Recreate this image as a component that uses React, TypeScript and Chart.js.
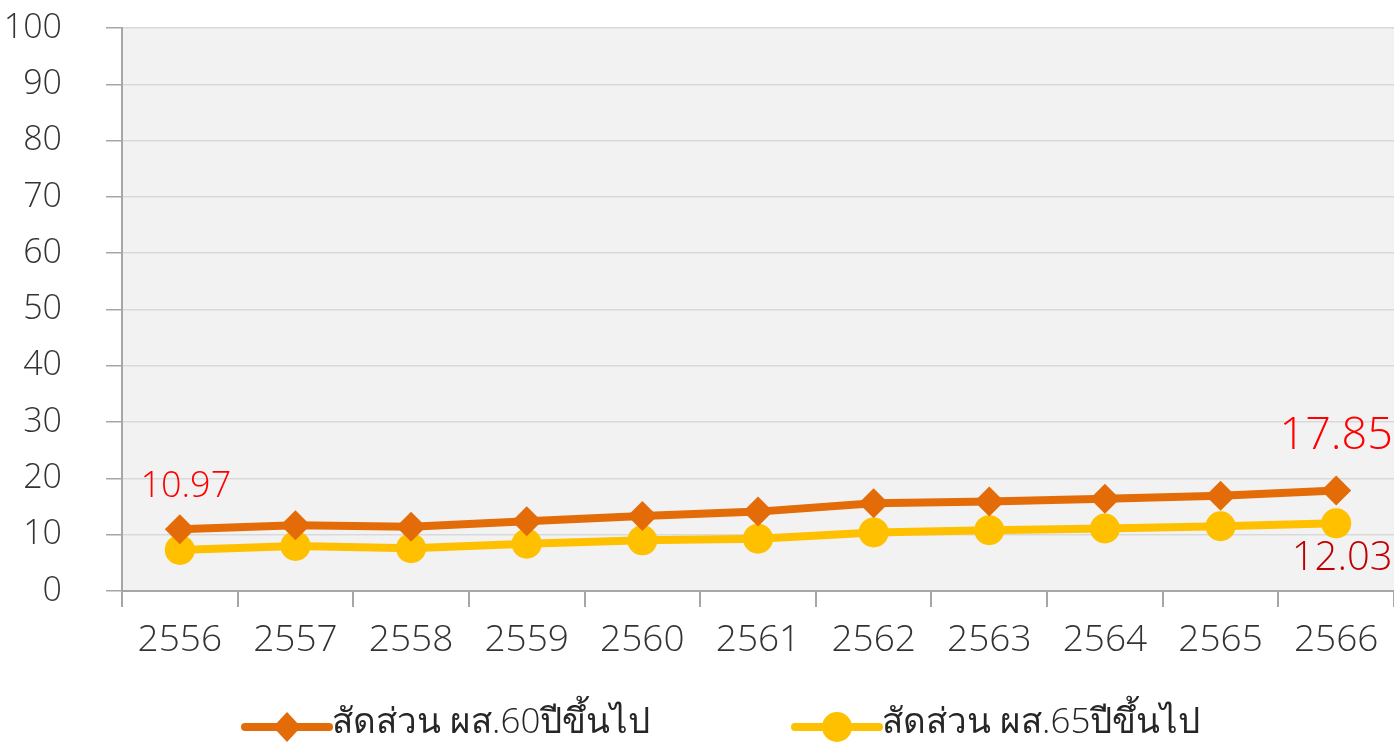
import React, { useEffect, useRef } from "react";
import { Chart, registerables } from "chart.js";

Chart.register(...registerables);

const categories = ["2556", "2557", "2558", "2559", "2560", "2561", "2562", "2563", "2564", "2565", "2566"];
const seriesNames = ["สัดส่วน ผส.60ปีขึ้นไป", "สัดส่วน ผส.65ปีขึ้นไป"];
const share60 = [10.97, 11.7, 11.4, 12.4, 13.3, 14.1, 15.6, 15.9, 16.4, 16.9, 17.85];
const share65 = [7.3, 8.0, 7.6, 8.4, 9.0, 9.3, 10.4, 10.8, 11.1, 11.5, 12.03];
const yTicks = [0, 10, 20, 30, 40, 50, 60, 70, 80, 90, 100];

const ORANGE = "#E36C09";
const YELLOW = "#FFC000";
const FONT = "'Open Sans', 'Noto Sans', sans-serif";

export default function App() {
  const ref = useRef<HTMLCanvasElement | null>(null);

  useEffect(() => {
    const canvas = ref.current!;
    const bgPlugin = {
      id: "bg",
      beforeDraw(chart: any) {
        const { ctx, chartArea } = chart;
        ctx.save();
        ctx.fillStyle = "#F2F2F2";
        ctx.fillRect(chartArea.left, chartArea.top, chartArea.right - chartArea.left, chartArea.bottom - chartArea.top);
        ctx.restore();
      },
    };
    const labelPlugin = {
      id: "labels",
      afterDatasetsDraw(chart: any) {
        const ctx = chart.ctx;
        const m0 = chart.getDatasetMeta(0).data;
        const m1 = chart.getDatasetMeta(1).data;
        ctx.save();
        ctx.textAlign = "center";
        ctx.textBaseline = "middle";
        const first = m0[0];
        ctx.fillStyle = "#FF0000";
        ctx.font = `300 36px ${FONT}`;
        ctx.fillText(String(share60[0]), first.x + 6, first.y - 42);
        const last = m0[m0.length - 1];
        ctx.font = `300 45px ${FONT}`;
        ctx.fillText(String(share60[share60.length - 1]), last.x, last.y - 54);
        const last1 = m1[m1.length - 1];
        ctx.fillStyle = "#C00000";
        ctx.font = `300 40px ${FONT}`;
        ctx.fillText(share65[share65.length - 1].toFixed(2), last1.x + 6, last1.y + 35);
        ctx.restore();
      },
      afterDraw(chart: any) {
        const ctx = chart.ctx;
        const y = 727;
        const items = [
          { x: 245, color: ORANGE, style: "diamond", name: seriesNames[0] },
          { x: 795, color: YELLOW, style: "circle", name: seriesNames[1] },
        ];
        ctx.save();
        for (const it of items) {
          ctx.strokeStyle = it.color;
          ctx.lineWidth = 8;
          ctx.lineCap = "round";
          ctx.beginPath();
          ctx.moveTo(it.x, y);
          ctx.lineTo(it.x + 84, y);
          ctx.stroke();
          ctx.fillStyle = it.color;
          const cx = it.x + 42;
          ctx.beginPath();
          if (it.style === "diamond") {
            ctx.moveTo(cx, y - 15);
            ctx.lineTo(cx + 14, y);
            ctx.lineTo(cx, y + 15);
            ctx.lineTo(cx - 14, y);
            ctx.closePath();
          } else {
            ctx.arc(cx, y, 15, 0, Math.PI * 2);
          }
          ctx.fill();
          ctx.fillStyle = "#262626";
          ctx.font = `300 35px ${FONT}`;
          ctx.textAlign = "left";
          ctx.textBaseline = "middle";
          ctx.fillText(it.name, it.x + 87, y - 4);
        }
        ctx.restore();
      },
    };

    const chart = new Chart(canvas, {
      type: "line",
      data: {
        labels: categories,
        datasets: [
          {
            label: seriesNames[0],
            data: share60,
            borderColor: ORANGE,
            backgroundColor: ORANGE,
            borderWidth: 8,
            pointStyle: "rectRot",
            pointRadius: 15,
            pointBorderWidth: 0,
            pointHoverRadius: 15,
          },
          {
            label: seriesNames[1],
            data: share65,
            borderColor: YELLOW,
            backgroundColor: YELLOW,
            borderWidth: 8,
            pointStyle: "circle",
            pointRadius: 15,
            pointBorderWidth: 0,
            pointHoverRadius: 15,
          },
        ],
      },
      options: {
        responsive: false,
        animation: false,
        layout: { autoPadding: false, padding: { top: 28, right: 0, left: 0, bottom: 0 } },
        plugins: { legend: { display: false }, tooltip: { enabled: false } },
        scales: {
          x: {
            offset: true,
            grid: { offset: true, drawOnChartArea: false, drawTicks: true, tickLength: 16, tickColor: "#A6A6A6", lineWidth: 2 },
            border: { color: "#A6A6A6", width: 2 },
            ticks: { color: "#333333", font: { family: FONT, size: 37, weight: "300" as any }, padding: 11, maxRotation: 0 },
            afterFit(scale: any) {
              scale.height = 159;
              scale.paddingLeft = 0;
              scale.paddingRight = 0;
            },
          },
          y: {
            min: 0,
            max: 100,
            afterBuildTicks(scale: any) {
              scale.ticks = yTicks.map((v) => ({ value: v }));
            },
            grid: { color: "#D9D9D9", lineWidth: 1.5, tickLength: 16, tickColor: "#A6A6A6" },
            border: { color: "#A6A6A6", width: 2 },
            ticks: { color: "#333333", font: { family: FONT, size: 34, weight: "300" as any }, padding: 44 },
            afterFit(scale: any) {
              scale.width = 122;
              scale.paddingTop = 0;
              scale.paddingBottom = 0;
            },
          },
        },
      },
      plugins: [bgPlugin, labelPlugin],
    });
    return () => chart.destroy();
  }, []);

  return (
    <div style={{ position: "fixed", left: 0, top: 0, width: 1394, height: 750, background: "#fff", overflow: "hidden" }}>
      <canvas ref={ref} width={1394} height={750} style={{ display: "block" }} />
    </div>
  );
}
